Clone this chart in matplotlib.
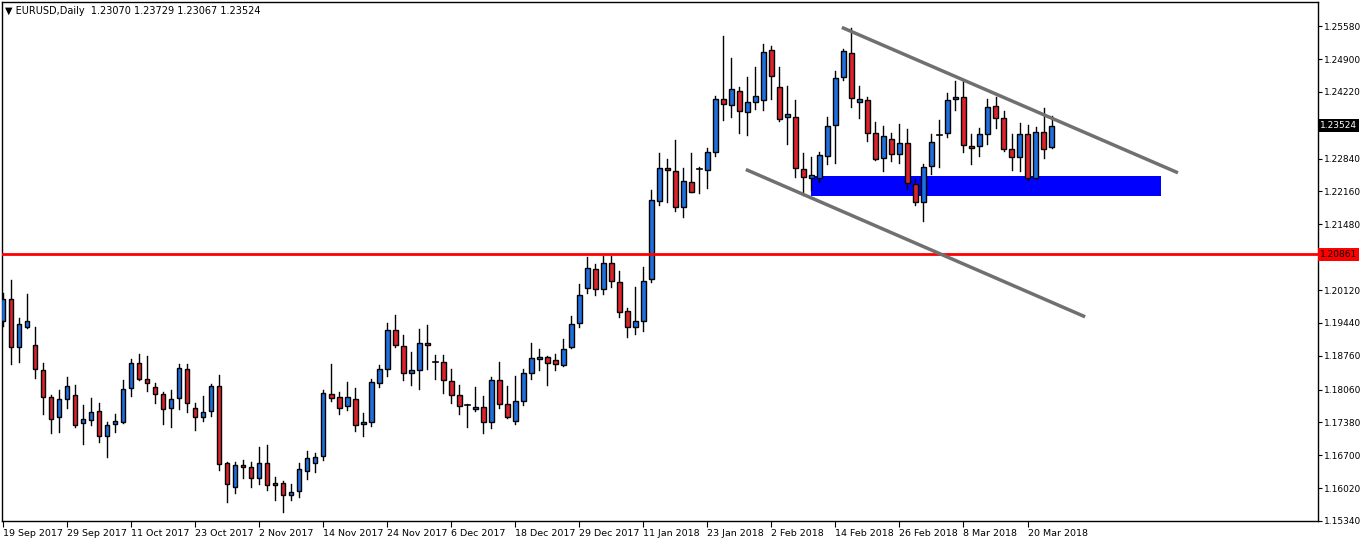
import matplotlib
matplotlib.use("Agg")
import matplotlib.pyplot as plt
import numpy as np
from matplotlib.patches import Rectangle

# EURUSD daily candles
opens = [1.1948, 1.1993, 1.1894, 1.1935, 1.1898, 1.1846, 1.1790, 1.1749, 1.1786, 1.1794,
         1.1736, 1.1743, 1.1761, 1.1709, 1.1734, 1.1738, 1.1809, 1.1861, 1.1828, 1.1811,
         1.1797, 1.1767, 1.1788, 1.1848, 1.1767, 1.1749, 1.1761, 1.1813, 1.1653, 1.1604,
         1.1649, 1.1645, 1.1622, 1.1655, 1.1612, 1.1612, 1.1587, 1.1596, 1.1637, 1.1655,
         1.1668, 1.1797, 1.1790, 1.1772, 1.1786, 1.1734, 1.1738, 1.1819, 1.1848, 1.1929,
         1.1896, 1.1840, 1.1846, 1.1902, 1.1863, 1.1863, 1.1823, 1.1794, 1.1774, 1.1765,
         1.1769, 1.1738, 1.1825, 1.1776, 1.1741, 1.1782, 1.1840, 1.1869, 1.1873, 1.1867,
         1.1857, 1.1894, 1.1943, 1.2016, 1.2055, 1.2014, 1.2068, 1.2028, 1.1968, 1.1935,
         1.1948, 1.2034, 1.2196, 1.2264, 1.2258, 1.2184, 1.2235, 1.2262, 1.2260, 1.2297,
         1.2407, 1.2395, 1.2424, 1.2380, 1.2401, 1.2405, 1.2508, 1.2432, 1.2370, 1.2370,
         1.2262, 1.2244, 1.2244, 1.2289, 1.2353, 1.2453, 1.2502, 1.2401, 1.2405, 1.2337,
         1.2285, 1.2324, 1.2293, 1.2316, 1.2231, 1.2194, 1.2268, 1.2333, 1.2337, 1.2407,
         1.2411, 1.2310, 1.2310, 1.2335, 1.2393, 1.2368, 1.2304, 1.2287, 1.2335, 1.2244,
         1.2339, 1.23070]
highs = [1.2005, 1.2032, 1.1954, 1.2003, 1.1935, 1.1861, 1.1794, 1.1805, 1.1832, 1.1815,
         1.1774, 1.1788, 1.1778, 1.1738, 1.1755, 1.1825, 1.1869, 1.1879, 1.1875, 1.1819,
         1.1801, 1.1805, 1.1859, 1.1859, 1.1778, 1.1792, 1.1817, 1.1836, 1.1657, 1.1657,
         1.1661, 1.1657, 1.1687, 1.1691, 1.1625, 1.1616, 1.1610, 1.1653, 1.1678, 1.1674,
         1.1805, 1.1859, 1.1801, 1.1821, 1.1809, 1.1757, 1.1828, 1.1856, 1.1943, 1.1960,
         1.1919, 1.1883, 1.1931, 1.1939, 1.1877, 1.1877, 1.1848, 1.1815, 1.1776, 1.1811,
         1.1792, 1.1832, 1.1863, 1.1813, 1.1834, 1.1848, 1.1902, 1.1890, 1.1875, 1.1879,
         1.1911, 1.1958, 1.2024, 1.2080, 1.2065, 1.2082, 1.2082, 1.2051, 1.1975, 1.2018,
         1.2059, 1.2219, 1.2295, 1.2283, 1.2322, 1.2264, 1.2295, 1.2266, 1.2306, 1.2413,
         1.2537, 1.2492, 1.2432, 1.2453, 1.2473, 1.2521, 1.2517, 1.2473, 1.2434, 1.2405,
         1.2295, 1.2287, 1.2297, 1.2370, 1.2465, 1.2510, 1.2554, 1.2434, 1.2411, 1.2360,
         1.2351, 1.2337, 1.2355, 1.2345, 1.2242, 1.2273, 1.2335, 1.2364, 1.2420, 1.2444,
         1.2444, 1.2335, 1.2347, 1.2407, 1.2411, 1.2382, 1.2335, 1.2357, 1.2353, 1.2349,
         1.2388, 1.23729]
lows = [1.1937, 1.1859, 1.1863, 1.1933, 1.1830, 1.1755, 1.1716, 1.1718, 1.1768, 1.1728,
        1.1693, 1.1732, 1.1697, 1.1666, 1.1718, 1.1736, 1.1792, 1.1825, 1.1803, 1.1778,
        1.1734, 1.1728, 1.1765, 1.1759, 1.1722, 1.1741, 1.1751, 1.1639, 1.1573, 1.1591,
        1.1622, 1.1604, 1.1610, 1.1598, 1.1577, 1.1552, 1.1577, 1.1583, 1.1620, 1.1635,
        1.1660, 1.1782, 1.1755, 1.1763, 1.1720, 1.1709, 1.1730, 1.1811, 1.1834, 1.1894,
        1.1825, 1.1815, 1.1807, 1.1848, 1.1828, 1.1799, 1.1778, 1.1755, 1.1728, 1.1761,
        1.1716, 1.1726, 1.1767, 1.1747, 1.1734, 1.1774, 1.1828, 1.1846, 1.1815, 1.1846,
        1.1855, 1.1892, 1.1935, 1.2005, 1.2001, 1.2003, 1.2018, 1.1956, 1.1915, 1.1922,
        1.1927, 1.2028, 1.2188, 1.2194, 1.2175, 1.2163, 1.2215, 1.2213, 1.2223, 1.2289,
        1.2364, 1.2370, 1.2337, 1.2333, 1.2386, 1.2384, 1.2407, 1.2362, 1.2314, 1.2246,
        1.2208, 1.2219, 1.2235, 1.2273, 1.2275, 1.2446, 1.2391, 1.2368, 1.2320, 1.2281,
        1.2258, 1.2279, 1.2275, 1.2221, 1.2188, 1.2155, 1.2252, 1.2266, 1.2328, 1.2384,
        1.2297, 1.2273, 1.2289, 1.2314, 1.2347, 1.2299, 1.2260, 1.2258, 1.2239, 1.2242,
        1.2285, 1.23067]
closes = [1.1993, 1.1894, 1.1941, 1.1948, 1.1849, 1.1790, 1.1745, 1.1786, 1.1813, 1.1732,
          1.1745, 1.1759, 1.1709, 1.1732, 1.1741, 1.1807, 1.1861, 1.1828, 1.1819, 1.1797,
          1.1765, 1.1786, 1.1850, 1.1778, 1.1749, 1.1759, 1.1813, 1.1651, 1.1610, 1.1649,
          1.1645, 1.1622, 1.1655, 1.1608, 1.1608, 1.1587, 1.1594, 1.1641, 1.1664, 1.1666,
          1.1799, 1.1788, 1.1767, 1.1790, 1.1732, 1.1738, 1.1821, 1.1848, 1.1929, 1.1898,
          1.1840, 1.1846, 1.1902, 1.1898, 1.1863, 1.1825, 1.1794, 1.1772, 1.1774, 1.1769,
          1.1738, 1.1825, 1.1776, 1.1749, 1.1782, 1.1840, 1.1871, 1.1873, 1.1861, 1.1859,
          1.1890, 1.1941, 1.2001, 1.2057, 1.2014, 1.2068, 1.2030, 1.1966, 1.1935, 1.1948,
          1.2030, 1.2198, 1.2264, 1.2260, 1.2184, 1.2237, 1.2215, 1.2262, 1.2297, 1.2407,
          1.2397, 1.2428, 1.2382, 1.2401, 1.2413, 1.2504, 1.2455, 1.2366, 1.2376, 1.2264,
          1.2246, 1.2250, 1.2291, 1.2351, 1.2451, 1.2506, 1.2409, 1.2407, 1.2337, 1.2283,
          1.2331, 1.2293, 1.2316, 1.2233, 1.2194, 1.2266, 1.2318, 1.2333, 1.2405, 1.2411,
          1.2312, 1.2306, 1.2335, 1.2391, 1.2368, 1.2304, 1.2287, 1.2335, 1.2244, 1.2339,
          1.2304, 1.23524]

date_labels = ["19 Sep 2017", "29 Sep 2017", "11 Oct 2017", "23 Oct 2017", "2 Nov 2017",
               "14 Nov 2017", "24 Nov 2017", "6 Dec 2017", "18 Dec 2017", "29 Dec 2017",
               "11 Jan 2018", "23 Jan 2018", "2 Feb 2018", "14 Feb 2018", "26 Feb 2018",
               "8 Mar 2018", "20 Mar 2018"]
date_idx = list(range(0, 129, 8))
price_ticks = [1.15340, 1.16020, 1.16700, 1.17380, 1.18060, 1.18760, 1.19440, 1.20120,
               1.21480, 1.22160, 1.22840, 1.24220, 1.24900, 1.25580]

support_level = 1.20861
zone_x = [101.0, 144.7]
zone_y = [1.2206, 1.2248]
upper_line_x = [105.0, 146.6]
upper_line_y = [1.2554, 1.2256]
lower_line_x = [93.0, 135.0]
lower_line_y = [1.2260, 1.1958]

W, H = 1362, 545
fig = plt.figure(figsize=(W / 100, H / 100), dpi=100)
ax = fig.add_axes([2 / W, 1 - 521 / H, 1316 / W, 519 / H])

up_col = "#1f6fde"
dn_col = "#d9232d"
bw = 0.55

ax.add_patch(Rectangle((zone_x[0], zone_y[0]), zone_x[1] - zone_x[0], zone_y[1] - zone_y[0],
                       facecolor="#0000ff", edgecolor="none", zorder=1))

for i, (o, h, l, c) in enumerate(zip(opens, highs, lows, closes)):
    ax.plot([i, i], [l, h], color="black", lw=1, zorder=2)
    lo, hi = min(o, c), max(o, c)
    col = up_col if c >= o else dn_col
    if hi - lo < 0.00005:
        ax.plot([i - bw / 2, i + bw / 2], [o, o], color="black", lw=1.2, zorder=3)
    else:
        ax.add_patch(Rectangle((i - bw / 2, lo), bw, hi - lo, facecolor=col,
                               edgecolor="black", lw=1, zorder=3))

ax.axhline(support_level, color="#ff0000", lw=2, zorder=4)
ax.plot(upper_line_x, upper_line_y, color="#707070", lw=2.5, zorder=5)
ax.plot(lower_line_x, lower_line_y, color="#707070", lw=2.5, zorder=5)

ax.set_xlim(-0.15, 164.3)
ax.set_ylim(1.1534, 1.2608)

ax.yaxis.tick_right()
ax.set_yticks(price_ticks)
ax.set_yticklabels([f"{p:.5f}" for p in price_ticks], fontsize=6.5)
ax.tick_params(axis="y", length=3, pad=1.5)
ax.set_xticks(date_idx)
ax.set_xticklabels(date_labels, fontsize=6.8, ha="left")
ax.tick_params(axis="x", length=4, pad=2)

for sp in ax.spines.values():
    sp.set_color("black")
    sp.set_linewidth(1)

# price tags on the right axis
ax.text(1.0015, support_level, "1.20861", transform=ax.get_yaxis_transform(), fontsize=6.5,
        color="black", va="center", ha="left",
        bbox=dict(facecolor="#ff0000", edgecolor="none", pad=1.5), zorder=6, clip_on=False)
ax.text(1.0015, closes[-1], "1.23524", transform=ax.get_yaxis_transform(), fontsize=6.5,
        color="white", va="center", ha="left",
        bbox=dict(facecolor="black", edgecolor="none", pad=1.5), zorder=6, clip_on=False)

ax.text(0.002, 0.992, "\u25BC EURUSD,Daily  1.23070 1.23729 1.23067 1.23524",
        transform=ax.transAxes, fontsize=7, va="top", ha="left")

fig.savefig("out.png", dpi=100)
